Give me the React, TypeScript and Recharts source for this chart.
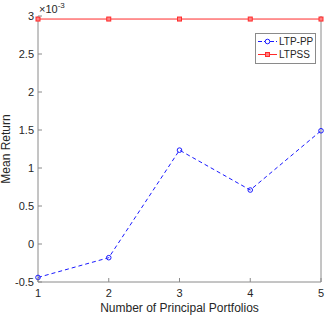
import React from 'react';
import { LineChart, Line, XAxis, YAxis } from 'recharts';

const portfolios = [1, 2, 3, 4, 5];
const ltpPP = [-0.44, -0.18, 1.235, 0.71, 1.49];
const ltpss = [2.96, 2.96, 2.96, 2.96, 2.96];
const yTicks = [-0.5, 0, 0.5, 1, 1.5, 2, 2.5, 3];
const xTicks = [1, 2, 3, 4, 5];
const seriesNames = ['LTP-PP', 'LTPSS'];

const data = portfolios.map((p, i) => ({ n: p, pp: ltpPP[i], ss: ltpss[i] }));

const FONT = '"Liberation Sans", Arial, sans-serif';
const TEXT = '#262626';
const AXIS = '#8a8a8a';
const BLUE = '#1a1aff';
const RED = '#ff2a2a';

const LeftTick = (props: any) => {
  const { x, y, payload } = props;
  return (
    <g>
      <line x1={x} y1={y} x2={x + 4} y2={y} stroke={AXIS} />
      <text x={x - 4} y={y + 4} textAnchor="end" fontSize={11} fill={TEXT} fontFamily={FONT}>
        {payload.value}
      </text>
    </g>
  );
};

const RightTick = (props: any) => {
  const { x, y } = props;
  return <line x1={x} y1={y} x2={x - 4} y2={y} stroke={AXIS} />;
};

const BottomTick = (props: any) => {
  const { x, y, payload } = props;
  return (
    <g>
      <line x1={x} y1={y} x2={x} y2={y - 4} stroke={AXIS} />
      <text x={x} y={y + 15} textAnchor="middle" fontSize={11} fill={TEXT} fontFamily={FONT}>
        {payload.value}
      </text>
    </g>
  );
};

const TopTick = (props: any) => {
  const { x, y } = props;
  return <line x1={x} y1={y} x2={x} y2={y + 4} stroke={AXIS} />;
};

const CircleDot = (props: any) => {
  const { cx, cy } = props;
  return <circle cx={cx} cy={cy} r={2.3} fill="none" stroke={BLUE} strokeWidth={1} />;
};

const SquareDot = (props: any) => {
  const { cx, cy } = props;
  return <rect x={cx - 2} y={cy - 2} width={4} height={4} fill="#ff8080" stroke={RED} strokeWidth={1} />;
};

const LegendBox = () => {
  const rows = [
    { name: seriesNames[0], color: BLUE, dash: '4 2', dot: 'circle' },
    { name: seriesNames[1], color: RED, dash: undefined, dot: 'square' },
  ];
  return (
    <div
      style={{
        position: 'absolute',
        left: 255,
        top: 33,
        width: 59,
        height: 27,
        border: `1px solid ${AXIS}`,
        background: '#fff',
        padding: '1px 0',
      }}
    >
      {rows.map((r) => (
        <div key={r.name} style={{ display: 'flex', alignItems: 'center', height: 13, whiteSpace: 'nowrap' }}>
          <svg width={22} height={13} style={{ flex: 'none' }}>
            <line x1={2} y1={6.5} x2={21} y2={6.5} stroke={r.color} strokeDasharray={r.dash} />
            {r.dot === 'circle' ? (
              <circle cx={11.5} cy={6.5} r={2.3} fill="#fff" stroke={r.color} />
            ) : (
              <rect x={9.5} y={4.5} width={4} height={4} fill="#ff8080" stroke={r.color} />
            )}
          </svg>
          <span style={{ fontSize: 10, color: TEXT, fontFamily: FONT, marginLeft: 1, lineHeight: '13px' }}>{r.name}</span>
        </div>
      ))}
    </div>
  );
};

export default function App() {
  return (
    <div style={{ position: 'absolute', left: 0, top: 0, width: 329, height: 317, background: '#fff' }}>
      <LineChart width={329} height={317} data={data} margin={{ top: 16, right: 4, bottom: 0, left: 0 }}>
        <XAxis
          dataKey="n"
          type="number"
          domain={[1, 5]}
          ticks={xTicks}
          tickSize={0}
          tickMargin={0}
          tickLine={false}
          stroke={AXIS}
          height={35}
          tick={<BottomTick />}
          label={{
            content: (p: any) => {
              const vb = p.viewBox;
              return (
                <text x={vb.x + vb.width / 2} y={vb.y + 30} textAnchor="middle" fontSize={12} fill={TEXT} fontFamily={FONT}>
                  Number of Principal Portfolios
                </text>
              );
            },
          }}
        />
        <XAxis
          xAxisId="top"
          orientation="top"
          dataKey="n"
          type="number"
          domain={[1, 5]}
          ticks={xTicks}
          tickSize={0}
          tickMargin={0}
          tickLine={false}
          stroke={AXIS}
          height={0}
          tick={<TopTick />}
        />
        <YAxis
          type="number"
          domain={[-0.5, 3]}
          ticks={yTicks}
          tickSize={0}
          tickMargin={0}
          tickLine={false}
          stroke={AXIS}
          width={38}
          tick={<LeftTick />}
          label={{
            content: (p: any) => {
              const vb = p.viewBox;
              const cy = vb.y + vb.height / 2;
              return (
                <g>
                  <text x={10} y={cy} transform={`rotate(-90 10 ${cy})`} textAnchor="middle" fontSize={12} fill={TEXT} fontFamily={FONT}>
                    Mean Return
                  </text>
                  <text x={39} y={vb.y - 3} fontSize={11} fill={TEXT} fontFamily={FONT}>
                    ×10
                    <tspan fontSize={8} dy={-5}>-3</tspan>
                  </text>
                </g>
              );
            },
          }}
        />
        <YAxis
          yAxisId="right"
          orientation="right"
          type="number"
          domain={[-0.5, 3]}
          ticks={yTicks}
          tickSize={0}
          tickMargin={0}
          tickLine={false}
          stroke={AXIS}
          width={4}
          tick={<RightTick />}
        />
        <Line
          dataKey="pp"
          name={seriesNames[0]}
          stroke={BLUE}
          strokeWidth={1}
          strokeDasharray="4 3"
          dot={<CircleDot />}
          isAnimationActive={false}
        />
        <Line
          dataKey="ss"
          name={seriesNames[1]}
          stroke={RED}
          strokeWidth={1}
          dot={<SquareDot />}
          isAnimationActive={false}
        />
      </LineChart>
      <LegendBox />
    </div>
  );
}
